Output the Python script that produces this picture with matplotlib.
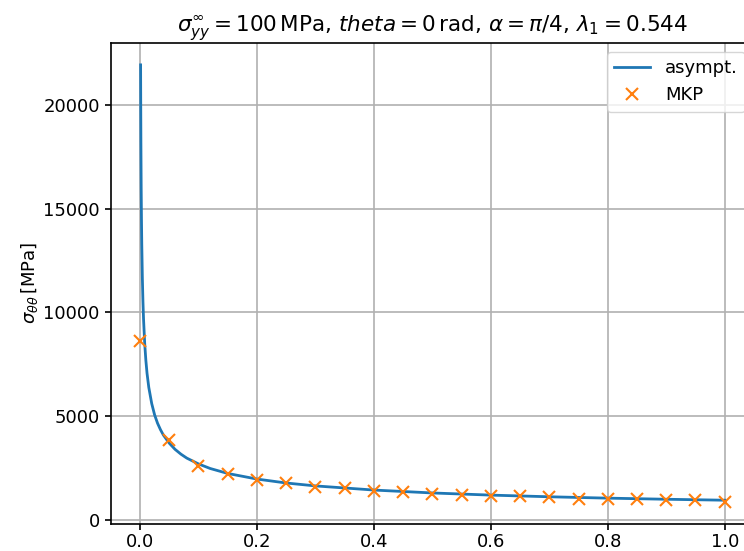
import numpy as np
import matplotlib.pyplot as plt

# asymptotic solution
r_asym = [0.001, 0.0012, 0.0015, 0.002, 0.0025, 0.003, 0.004, 0.005, 0.006,
          0.008, 0.01, 0.012, 0.015, 0.02, 0.025, 0.03, 0.035, 0.04, 0.05,
          0.06, 0.07, 0.08, 0.1, 0.12, 0.15, 0.2, 0.25, 0.3, 0.4, 0.5, 0.6,
          0.7, 0.8, 0.9, 1.0]
s_asym = [21930, 20190, 18240, 15990, 14450, 13290, 11660, 10530, 9690,
          8500, 7680, 7060, 6380, 5600, 5050, 4650, 4340, 4080, 3690,
          3390, 3160, 2970, 2690, 2470, 2230, 1960, 1770, 1630, 1430, 1290, 1186,
          1106, 1040, 986, 940]

# MKP points
r_mkp = [0.0, 0.05, 0.1, 0.15, 0.2, 0.25, 0.3, 0.35, 0.4, 0.45, 0.5,
         0.55, 0.6, 0.65, 0.7, 0.75, 0.8, 0.85, 0.9, 0.95, 1.0]
s_mkp = [8620, 3846, 2612, 2196, 1923, 1764, 1571, 1522, 1362, 1314, 1250,
         1202, 1122, 1122, 1090, 1010, 1010, 1010, 929, 929, 865]

fig = plt.figure(figsize=(7.44, 5.51), dpi=100)
ax = fig.add_axes([0.1489, 0.0497, 0.8645, 0.8722])

ax.plot(r_asym, s_asym, color='tab:blue', lw=2, label='asympt.')
ax.plot(r_mkp, s_mkp, 'x', color='tab:orange', ms=8, mew=1.5, label='MKP')

ax.set_title(r'$\sigma_{yy}^{\infty} = 100\,\mathrm{MPa}$, $theta = 0\,\mathrm{rad}$, '
             r'$\alpha = \pi/4$, $\lambda_1 = 0.544$', fontsize=15.5, pad=8)
ax.set_ylabel(r'$\sigma_{\theta\theta}\,[\mathrm{MPa}]$', fontsize=13, labelpad=2)
ax.tick_params(labelsize=13, length=4.5, width=1.2)
ax.tick_params(axis='x', pad=2)
for sp in ax.spines.values():
    sp.set_linewidth(1.2)
ax.grid(True, lw=1.2)
ax.legend(loc='upper right', fontsize=13)

fig.savefig('out.png', dpi=100)
